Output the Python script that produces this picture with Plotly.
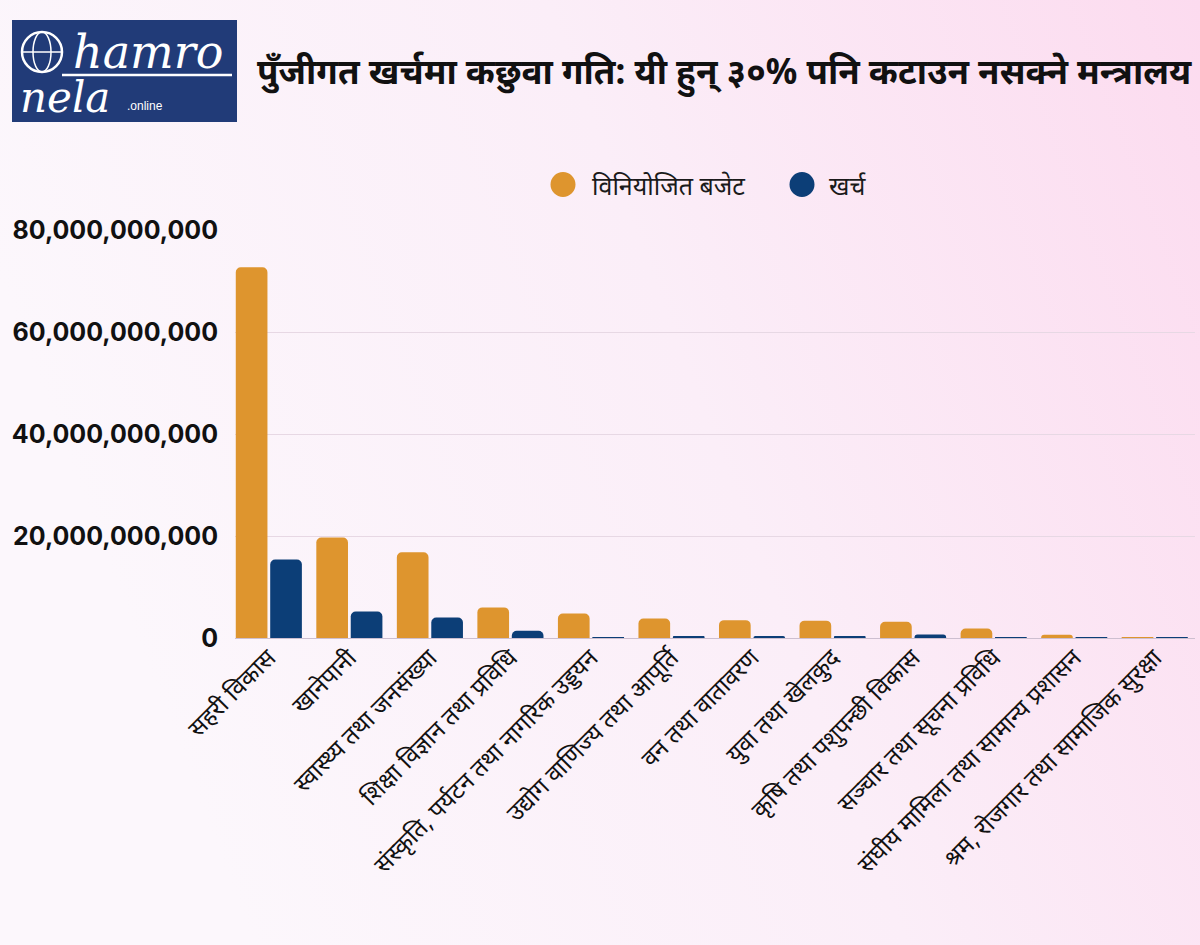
import base64

import plotly.graph_objects as go

# ministries (x categories)
ministries = [
    "सहरी विकास",
    "खानेपानी",
    "स्वास्थ्य तथा जनसंख्या",
    "शिक्षा विज्ञान तथा प्रविधि",
    "संस्कृति, पर्यटन तथा नागरिक उड्डयन",
    "उद्योग वाणिज्य तथा आपूर्ति",
    "वन तथा वातावरण",
    "युवा तथा खेलकुद",
    "कृषि तथा पशुपन्छी विकास",
    "सञ्चार तथा सूचना प्रविधि",
    "संघीय मामिला तथा सामान्य प्रशासन",
    "श्रम, रोजगार तथा सामाजिक सुरक्षा",
]

# allocated budget and spending, rupees
budget = [
    72_700_000_000, 19_700_000_000, 16_800_000_000, 6_000_000_000,
    4_800_000_000, 3_800_000_000, 3_500_000_000, 3_400_000_000,
    3_200_000_000, 1_850_000_000, 650_000_000, 150_000_000,
]
spent = [
    15_400_000_000, 5_200_000_000, 4_000_000_000, 1_400_000_000,
    150_000_000, 200_000_000, 400_000_000, 200_000_000,
    700_000_000, 150_000_000, 20_000_000, 10_000_000,
]

series_names = ["विनियोजित बजेट", "खर्च"]
y_ticks = [0, 20_000_000_000, 40_000_000_000, 60_000_000_000, 80_000_000_000]
y_tick_text = ["0", "20,000,000,000", "40,000,000,000", "60,000,000,000", "80,000,000,000"]

title = "पुँजीगत खर्चमा कछुवा गति: यी हुन् ३०% पनि कटाउन नसक्ने मन्त्रालय"

ORANGE = "#DE952E"
NAVY = "#0C3E77"
LOGO_BG = "#213B78"

W, H = 1200, 945
L, R, T, B = 235, 5, 230, 307
PW, PH = W - L - R, H - T - B


def px(x):
    # pixel -> paper x
    return (x - L) / PW


def py(y):
    # pixel -> paper y
    return (H - B - y) / PH


# soft lavender -> pink backdrop
svg = (
    '<svg xmlns="http://www.w3.org/2000/svg" width="1200" height="945">'
    '<defs><linearGradient id="g" x1="0" y1="0.3" x2="1" y2="0">'
    '<stop offset="0" stop-color="#FCF7FC"/>'
    '<stop offset="0.5" stop-color="#FBEEF8"/>'
    '<stop offset="1" stop-color="#FCDBEF"/>'
    "</linearGradient></defs>"
    '<rect width="1200" height="945" fill="url(#g)"/></svg>'
)
bg_uri = "data:image/svg+xml;base64," + base64.b64encode(svg.encode()).decode()

fig = go.Figure()
fig.add_trace(go.Bar(x=ministries, y=budget, name=series_names[0],
                     marker=dict(color=ORANGE, line_width=0)))
fig.add_trace(go.Bar(x=ministries, y=spent, name=series_names[1],
                     marker=dict(color=NAVY, line_width=0)))

shapes = [
    # logo box
    dict(type="rect", xref="paper", yref="paper",
         x0=px(12), x1=px(237), y0=py(122), y1=py(20),
         fillcolor=LOGO_BG, line_width=0, layer="above"),
    # globe
    dict(type="circle", xref="paper", yref="paper",
         x0=px(22), x1=px(62), y0=py(72), y1=py(32),
         line=dict(color="white", width=2.5)),
    dict(type="line", xref="paper", yref="paper",
         x0=px(22), x1=px(62), y0=py(52), y1=py(52),
         line=dict(color="white", width=1.5)),
    dict(type="circle", xref="paper", yref="paper",
         x0=px(33), x1=px(51), y0=py(72), y1=py(32),
         line=dict(color="white", width=1.5)),
    dict(type="line", xref="paper", yref="paper",
         x0=px(62), x1=px(232), y0=py(75), y1=py(75),
         line=dict(color="white", width=2.5)),
    # legend dots
    dict(type="circle", xref="paper", yref="paper",
         x0=px(550.5), x1=px(575.5), y0=py(197), y1=py(172),
         fillcolor=ORANGE, line_width=0),
    dict(type="circle", xref="paper", yref="paper",
         x0=px(789.5), x1=px(814.5), y0=py(197), y1=py(172),
         fillcolor=NAVY, line_width=0),
]

annotations = [
    dict(text=title, x=px(724), y=py(72), xref="paper", yref="paper",
         showarrow=False, xanchor="center", yanchor="middle",
         font=dict(family="Noto Sans", size=35, color="#111111", weight="bold")),
    dict(text=series_names[0], x=px(590), y=py(185), xref="paper", yref="paper",
         showarrow=False, xanchor="left", yanchor="middle",
         font=dict(family="Noto Sans", size=25, color="#1a1a1a")),
    dict(text=series_names[1], x=px(827), y=py(185), xref="paper", yref="paper",
         showarrow=False, xanchor="left", yanchor="middle",
         font=dict(family="Noto Sans", size=25, color="#1a1a1a")),
    # logo wordmark
    dict(text="<i>hamro</i>", x=px(148), y=py(52), xref="paper", yref="paper",
         showarrow=False, xanchor="center", yanchor="middle",
         font=dict(family="DejaVu Serif", size=46, color="white")),
    dict(text="<i>nela</i>", x=px(18), y=py(97), xref="paper", yref="paper",
         showarrow=False, xanchor="left", yanchor="middle",
         font=dict(family="DejaVu Serif", size=42, color="white")),
    dict(text=".online", x=px(125), y=py(106), xref="paper", yref="paper",
         showarrow=False, xanchor="left", yanchor="middle",
         font=dict(family="Liberation Sans", size=12, color="white")),
]

fig.update_layout(
    width=W, height=H,
    margin=dict(l=L, r=R, t=T, b=B, autoexpand=False),
    barmode="group",
    bargap=0.145,
    bargroupgap=0.08,
    barcornerradius=5,
    showlegend=False,
    paper_bgcolor="#FBEEF8",
    plot_bgcolor="rgba(0,0,0,0)",
    images=[dict(source=bg_uri, xref="paper", yref="paper",
                 x=px(0), y=py(0), sizex=W / PW, sizey=H / PH,
                 xanchor="left", yanchor="top", sizing="stretch",
                 layer="below")],
    shapes=shapes,
    annotations=annotations,
    xaxis=dict(
        range=[-0.42, 11.5],
        tickangle=-45,
        tickfont=dict(family="Noto Sans", size=24, color="#111111"),
        showgrid=False,
        showline=False,
        zeroline=False,
        ticks="",
    ),
    yaxis=dict(
        range=[0, 80_000_000_000],
        tickvals=y_ticks,
        ticktext=y_tick_text,
        tickfont=dict(family="Inter", size=25, color="#111111", weight="bold"),
        ticklabelstandoff=16,
        showgrid=True,
        gridcolor="#E7D8E4",
        gridwidth=1,
        zeroline=True,
        zerolinecolor="#CDBFD0",
        zerolinewidth=1,
        ticks="",
    ),
)

# drop the browser's default page margin so the figure sits at 0,0
fig.write_html("out.html", config={"displayModeBar": False},
               post_script="document.body.style.margin='0';")
